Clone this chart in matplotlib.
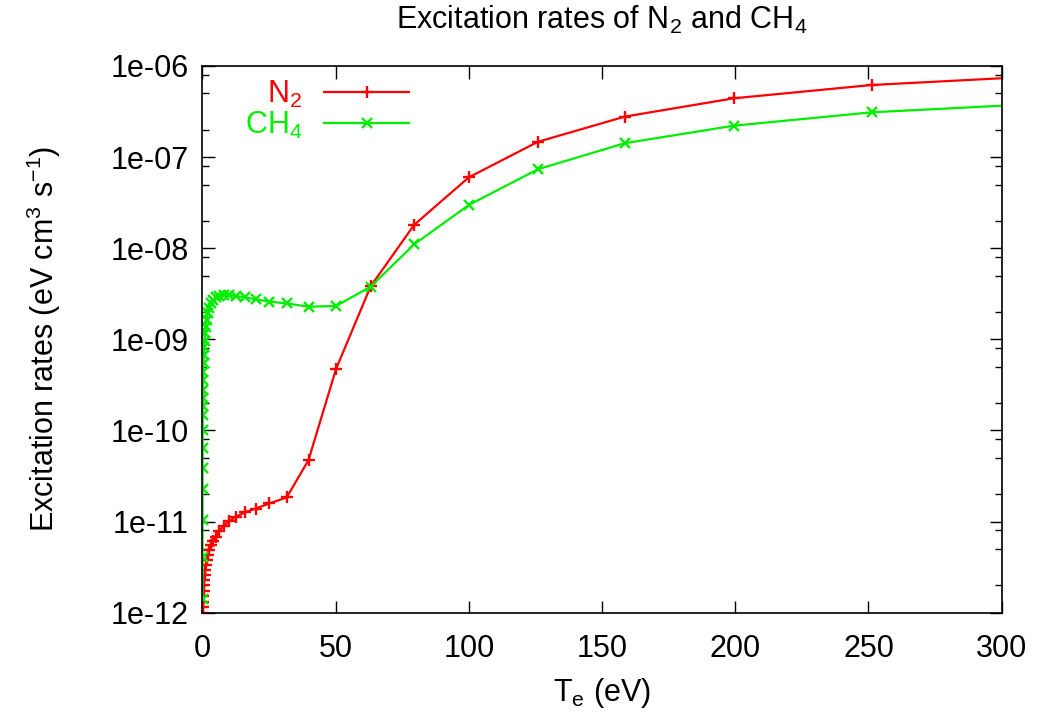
"""Excitation rates of N2 and CH4 versus electron temperature (gnuplot look)."""

import matplotlib
matplotlib.use("Agg")
import matplotlib.pyplot as plt
from matplotlib.ticker import FixedLocator, FuncFormatter, NullFormatter
import numpy as np

matplotlib.rcParams["font.family"] = ["Liberation Sans", "DejaVu Sans"]
matplotlib.rcParams["mathtext.fontset"] = "custom"
matplotlib.rcParams["mathtext.rm"] = "Liberation Sans"
matplotlib.rcParams["mathtext.it"] = "Liberation Sans"

# electron temperature (eV) and rates (eV cm^3 s^-1)
te_n2 = [316.2, 251.2, 199.5, 158.5, 125.9, 100.0, 79.43, 63.10, 50.12, 39.81,
         31.62, 25.12, 19.95, 15.85, 12.59, 10.0, 7.943, 6.310, 5.012, 3.981,
         3.162, 2.512, 1.995, 1.585, 1.259, 1.0, 0.794, 0.631, 0.501, 0.398,
         0.316, 0.251, 0.200, 0.158]
rate_n2 = [7.76e-7, 6.18e-7, 4.42e-7, 2.78e-7, 1.47e-7, 6.0e-8, 1.8e-8, 3.8e-9,
           4.7e-10, 4.73e-11, 1.84e-11, 1.58e-11, 1.39e-11, 1.26e-11, 1.13e-11,
           1.01e-11, 8.93e-12, 7.87e-12, 6.84e-12, 6.1e-12, 5.52e-12, 4.86e-12,
           4.28e-12, 3.77e-12, 3.33e-12, 2.94e-12, 2.59e-12, 2.28e-12, 2.01e-12,
           1.74e-12, 1.52e-12, 1.32e-12, 1.14e-12, 1.0e-12]

te_ch4 = [316.2, 251.2, 199.5, 158.5, 125.9, 100.0, 79.43, 63.10, 50.12, 39.81,
          31.62, 25.12, 19.95, 15.85, 12.59, 10.0, 7.943, 6.310, 5.012, 3.981,
          3.162, 2.512, 1.995, 1.585, 1.259, 1.0, 0.794, 0.631, 0.501, 0.398,
          0.316, 0.251, 0.200, 0.158, 0.126, 0.100, 0.079, 0.063, 0.050, 0.040,
          0.032, 0.025, 0.020]
rate_ch4 = [3.87e-7, 3.1e-7, 2.21e-7, 1.42e-7, 7.35e-8, 2.98e-8, 1.1e-8, 3.78e-9,
            2.32e-9, 2.28e-9, 2.48e-9, 2.59e-9, 2.75e-9, 2.89e-9, 2.99e-9,
            3.06e-9, 3.06e-9, 2.99e-9, 2.89e-9, 2.7e-9, 2.48e-9, 2.19e-9,
            1.93e-9, 1.63e-9, 1.37e-9, 1.16e-9, 9.7e-10, 8.2e-10, 6.7e-10,
            5.45e-10, 4.4e-10, 3.57e-10, 2.78e-10, 2.25e-10, 1.85e-10, 1.48e-10,
            1.0e-10, 6.4e-11, 3.9e-11, 2.25e-11, 1.04e-11, 4.1e-12, 1.4e-12]

x_ticks = [0, 50, 100, 150, 200, 250, 300]
y_decades = [-12, -11, -10, -9, -8, -7, -6]

RED = "#ff0000"
GREEN = "#00ee00"
FS = 22

fig = plt.figure(figsize=(10.42, 7.17), dpi=100)
ax = fig.add_axes([0.1943, 0.1455, 0.767, 0.7625])

ax.plot(te_n2, rate_n2, color=RED, lw=1.6, marker="+", ms=9, mew=1.7,
        label="N$_2$", clip_on=True)
ax.plot(te_ch4, rate_ch4, color=GREEN, lw=1.6, marker="x", ms=7.5, mew=1.7,
        label="CH$_4$", clip_on=True)

ax.set_yscale("log")
ax.set_xlim(0, 300)
ax.set_ylim(1e-12, 1e-6)

ax.set_xticks(x_ticks)
ax.yaxis.set_major_locator(FixedLocator([10.0 ** d for d in y_decades]))
ax.yaxis.set_major_formatter(FuncFormatter(lambda v, p: "1e-%02d" % round(-np.log10(v))))
minors = [m * 10.0 ** d for d in y_decades[:-1] for m in (2, 5, 8)]
ax.yaxis.set_minor_locator(FixedLocator(minors))
ax.yaxis.set_minor_formatter(NullFormatter())
ax.xaxis.set_minor_locator(FixedLocator([]))

ax.tick_params(which="both", direction="in", top=True, right=True,
               labelsize=FS, width=1, colors="black")
ax.tick_params(which="major", length=9)
ax.tick_params(axis="y", which="major", pad=10)
ax.tick_params(axis="x", which="major", pad=15)
ax.tick_params(which="minor", length=5)
for s in ax.spines.values():
    s.set_linewidth(1.2)

ax.set_title("Excitation rates of N$_2$ and CH$_4$", fontsize=FS, pad=27)
ax.set_xlabel("T$_e$ (eV)", fontsize=FS, labelpad=9)
ax.set_ylabel("Excitation rates (eV cm$^3$ s$^{-1}$)", fontsize=FS, labelpad=34)

leg = ax.legend(loc="upper left", bbox_to_anchor=(0.03, 1.01), frameon=False,
                markerfirst=False, labelcolor="linecolor", fontsize=FS,
                handlelength=2.8, handletextpad=0.7, labelspacing=0.0,
                borderaxespad=0.2)
for t in leg.get_texts():
    t.set_ha("right")

fig.savefig("out.png", dpi=100)
